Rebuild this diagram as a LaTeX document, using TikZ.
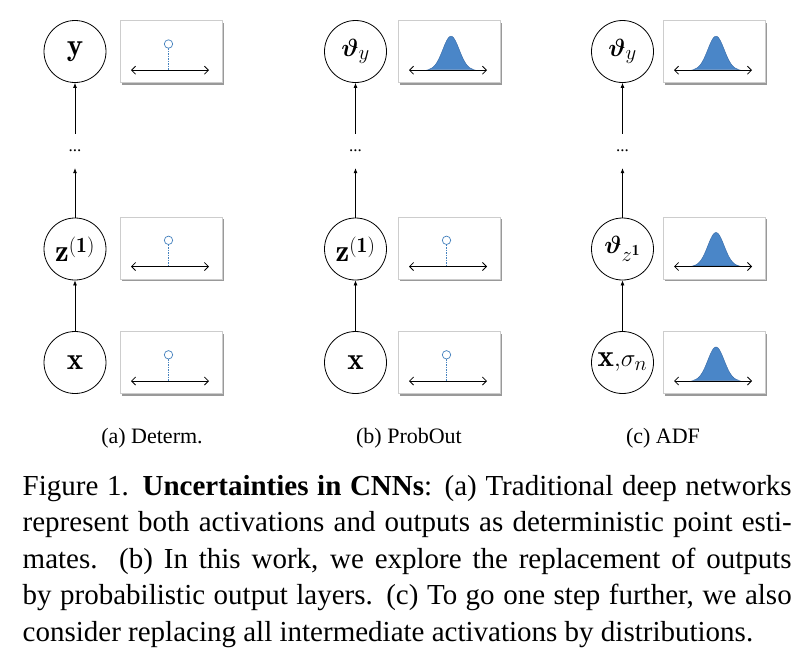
\documentclass[tikz,border=0pt]{standalone}
\usepackage{amsmath,bm}
\usepackage{fontspec}
\usetikzlibrary{arrows.meta,shadows,calc}
\newfontfamily\capfont{Liberation Serif}
\definecolor{gfill}{RGB}{74,134,200}
\definecolor{gedge}{RGB}{55,105,165}
\definecolor{pblue}{RGB}{70,130,190}
\definecolor{boxgray}{RGB}{205,205,205}
\newcommand\pointdist[1]{%
  \draw[axisline] ($(#1.center)+(-40,18.5)$) -- ($(#1.center)+(38,18.5)$);
  \draw[pblue,dash pattern=on 1.5pt off 1pt,line width=0.7pt] ($(#1.center)+(-2.5,-3.5)$) -- ($(#1.center)+(-2.5,18.5)$);
  \draw[pblue,line width=0.7pt,fill=white] ($(#1.center)+(-2.5,-7.7)$) circle (4.2pt);
}
\newcommand\gaussdist[1]{%
  \begin{scope}[shift={($(#1.center)+(2,18.5)$)}]
    \draw[fill=gfill,draw=gedge,line width=0.4pt] plot[domain=-23:23,samples=61,smooth] (\x,{-34*exp(-(\x*\x)/135)}) -- cycle;
  \end{scope}
  \draw[axisline] ($(#1.center)+(-40,18.5)$) -- ($(#1.center)+(38,18.5)$);
}
\begin{document}
\begin{tikzpicture}[x=1pt,y=-1pt,
  var/.style={circle,draw,line width=0.8pt,minimum size=62pt,inner sep=0pt,font=\fontsize{31}{36}\selectfont},
  distbox/.style={draw=boxgray,line width=0.6pt,fill=white,minimum width=102pt,minimum height=62pt,inner sep=0pt,
    drop shadow={shadow xshift=2.2pt,shadow yshift=-2.2pt,opacity=0.4,fill=black}},
  flow/.style={-{Latex[length=5pt,width=4pt]},line width=0.7pt},
  axisline/.style={{Straight Barb[length=4pt,width=8pt]}-{Straight Barb[length=4pt,width=8pt]},line width=0.8pt},
  dotsnode/.style={minimum height=34pt,inner sep=0pt,font=\fontsize{17}{17}\selectfont\capfont},
  subcap/.style={anchor=base,inner sep=0pt,font=\fontsize{22}{26}\selectfont\capfont},
  capline/.style={anchor=base west,inner sep=0pt,font=\fontsize{29}{36}\selectfont\capfont}]
\useasboundingbox (0,0) rectangle (806,651);

% column a
\node[var] (ax) at (75,362.5) {$\mathbf{x}$};
\node[var] (az) at (75,249) {$\mathbf{z}^{\mathbf{(1)}}$};
\node[dotsnode] (ad) at (75,151) {...};
\node[var] (ay) at (75,51.5) {$\mathbf{y}$};
\draw[flow] (ax) -- (az);
\draw[flow] (az) -- (ad);
\draw[flow] (ad) -- (ay);
\node[distbox] (abx) at (171,362.5) {};
\node[distbox] (abz) at (171,248) {};
\node[distbox] (aby) at (171,51.7) {};
\pointdist{abx}\pointdist{abz}\pointdist{aby}

% column b
\node[var] (bx) at (355.5,362.5) {$\mathbf{x}$};
\node[var] (bz) at (355.5,249) {$\mathbf{z}^{\mathbf{(1)}}$};
\node[dotsnode] (bd) at (355.5,151) {...};
\node[var] (by) at (355.5,51.5) {$\bm{\vartheta}_y$};
\draw[flow] (bx) -- (bz);
\draw[flow] (bz) -- (bd);
\draw[flow] (bd) -- (by);
\node[distbox] (bbx) at (449,362.5) {};
\node[distbox] (bbz) at (449,248) {};
\node[distbox] (bby) at (449,51.7) {};
\pointdist{bbx}\pointdist{bbz}\gaussdist{bby}

% column c
\node[var] (cx) at (622.5,362.5) {$\mathbf{x}{,}\sigma_n$};
\node[var] (cz) at (622.5,249) {$\bm{\vartheta}_{z^{\mathbf{1}}}$};
\node[dotsnode] (cd) at (622.5,151) {...};
\node[var] (cy) at (622.5,51.5) {$\bm{\vartheta}_y$};
\draw[flow] (cx) -- (cz);
\draw[flow] (cz) -- (cd);
\draw[flow] (cd) -- (cy);
\node[distbox] (cbx) at (714,362.5) {};
\node[distbox] (cbz) at (714,248) {};
\node[distbox] (cby) at (714,51.7) {};
\gaussdist{cbx}\gaussdist{cbz}\gaussdist{cby}

% sub-captions
\node[subcap] (sa) at (152,443) {(a) Determ.};
\node[subcap] (sb) at (409,443) {(b) ProbOut};
\node[subcap] (sc) at (663,443) {(c) ADF};

% caption
\node[capline] (l1) at (22.5,495) {\makebox[769pt][s]{Figure 1. \textbf{Uncertainties in CNNs}: (a) Traditional deep networks}};
\node[capline] (l2) at (22.5,531.5) {\makebox[769pt][s]{represent both activations and outputs as deterministic point esti-}};
\node[capline] (l3) at (22.5,568) {\makebox[769pt][s]{mates.\ \ (b) In this work, we explore the replacement of outputs}};
\node[capline] (l4) at (22.5,604.5) {\makebox[769pt][s]{by probabilistic output layers. (c) To go one step further, we also}};
\node[capline] (l5) at (22.5,641) {consider replacing all intermediate activations by distributions.};
\end{tikzpicture}
\end{document}
